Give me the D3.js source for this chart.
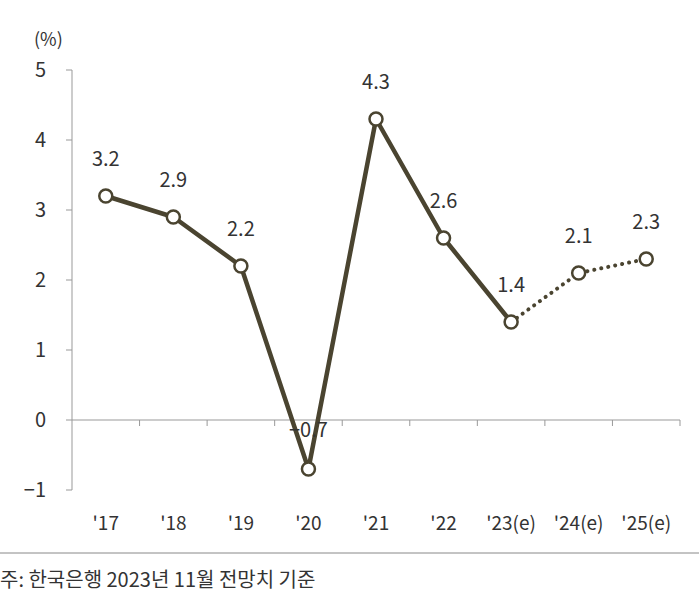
<!DOCTYPE html><html><head><meta charset="utf-8"><script src="https://cdn.jsdelivr.net/npm/d3@7"></script>
<style>body{margin:0;background:#fff}text{font-family:"Noto Sans CJK KR","Noto Sans",sans-serif;fill:#333}</style></head><body>
<svg id="c" width="699" height="607"></svg>
<script>
const categories=["'17","'18","'19","'20","'21","'22","'23(e)","'24(e)","'25(e)"];
const values=[3.2,2.9,2.2,-0.7,4.3,2.6,1.4,2.1,2.3];
const yTicks=[-1,0,1,2,3,4,5];
const svg=d3.select("#c");
const x=d3.scaleBand().domain(categories).range([72,680]);
const y=d3.scaleLinear().domain([-1,5]).range([490,70]);
const cx=c=>x(c)+x.bandwidth()/2;
svg.append("line").attr("x1",72).attr("x2",72).attr("y1",y(5)).attr("y2",y(-1)).attr("stroke","#999");
yTicks.forEach(t=>{
 svg.append("line").attr("x1",66).attr("x2",72).attr("y1",y(t)).attr("y2",y(t)).attr("stroke","#999");
 svg.append("text").attr("x",46).attr("y",y(t)+7).attr("text-anchor","end").attr("font-size",20).text(t<0?"−"+(-t):t);
});
svg.append("text").attr("x",34).attr("y",46).attr("font-size",18).text("(%)");
svg.append("line").attr("x1",72).attr("x2",680).attr("y1",y(0)).attr("y2",y(0)).attr("stroke","#999");
categories.forEach((c,i)=>{ if(i>0) svg.append("line").attr("x1",x(c)).attr("x2",x(c)).attr("y1",y(0)).attr("y2",y(0)+6).attr("stroke","#999");});
svg.append("line").attr("x1",680).attr("x2",680).attr("y1",y(0)).attr("y2",y(0)+6).attr("stroke","#999");
categories.forEach(c=>svg.append("text").attr("x",cx(c)).attr("y",530).attr("text-anchor","middle").attr("font-size",19).text(c));
const pts=categories.map((c,i)=>[cx(c),y(values[i])]);
const line=d3.line();
svg.append("path").attr("d",line(pts.slice(0,7))).attr("fill","none").attr("stroke","#4a4430").attr("stroke-width",4.5).attr("stroke-linejoin","round");
svg.append("path").attr("d",line(pts.slice(6))).attr("fill","none").attr("stroke","#4a4430").attr("stroke-width",4).attr("stroke-dasharray","0.1 7").attr("stroke-linecap","round");
pts.forEach((p,i)=>{
 svg.append("circle").attr("cx",p[0]).attr("cy",p[1]).attr("r",6.5).attr("fill","#fff").attr("stroke","#4a4430").attr("stroke-width",2.5);
 svg.append("text").attr("x",p[0]).attr("y",values[i]<0?y(0)+17:p[1]-30).attr("text-anchor","middle").attr("font-size",20).text(values[i]<0?"−"+(-values[i]):values[i]);
});
svg.append("line").attr("x1",0).attr("x2",699).attr("y1",553).attr("y2",553).attr("stroke","#888");
svg.append("text").attr("x",0).attr("y",587).attr("font-size",20).text("주: 한국은행 2023년 11월 전망치 기준");
</script></body></html>
